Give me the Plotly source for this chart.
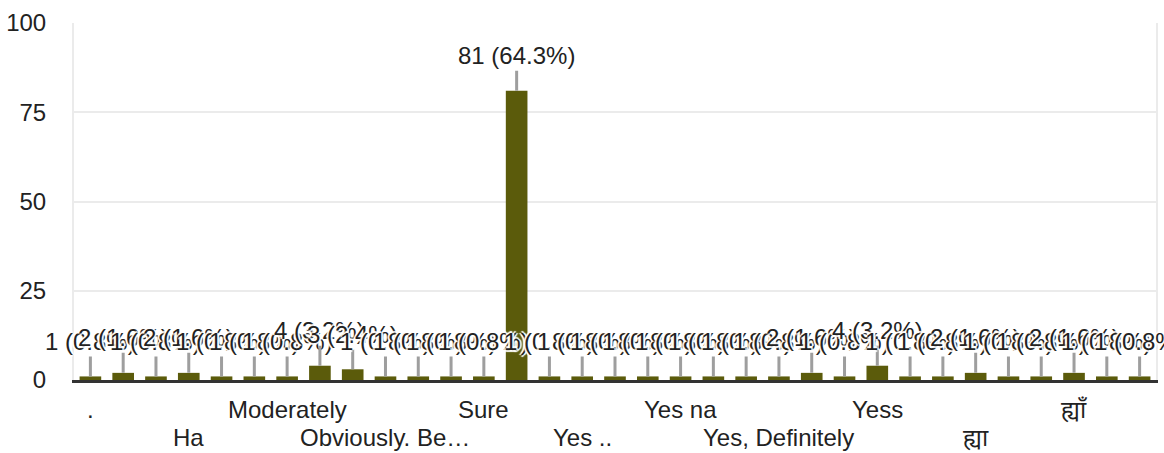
import plotly.graph_objects as go

categories = [
    ".", "Absolutely", "Definitely", "Ha", "Haan", "Maybe",
    "Moderately", "No", "Ok", "Obviously. Be…", "Of course", "Positive",
    "Sure", "Yes", "Yes .", "Yes ..", "Yes I will", "Yes mam",
    "Yes na", "Yes sure", "Yes, Absolutely", "Yes, Definitely", "Yes.", "Yes!",
    "Yess", "Yesss", "yes", "ह्या", "ह्या.", "हाँ",
    "ह्याँ", "हो", "होय",
]
counts = [
    1, 2, 1, 2, 1, 1,
    1, 4, 3, 1, 1, 1,
    1, 81, 1, 1, 1, 1,
    1, 1, 1, 1, 2, 1,
    4, 1, 1, 2, 1, 1,
    2, 1, 1,
]
total = 126

row1_labels = [".", "Moderately", "Sure", "Yes na", "Yess", "ह्याँ"]
row2_labels = ["Ha", "Obviously. Be…", "Yes ..", "Yes, Definitely", "ह्या"]

FONT = "Liberation Sans, Arial, Noto Sans, sans-serif"
TXT = "#222222"
FS = 24
HALO = "2px 0 1px white, -2px 0 1px white, 0 2px 1px white, 0 -2px 1px white"

fig = go.Figure()
fig.add_trace(go.Bar(
    x=categories, y=counts, marker_color="#5b5b0b", marker_line_width=0,
    hoverinfo="skip",
))

annotations = []
for c, v in zip(categories, counts):
    annotations.append(dict(
        x=c, y=v, xref="x", yref="y",
        text=f"{v} ({v / total * 100:.1f}%)",
        showarrow=True, ax=0, ay=-35, arrowhead=0, arrowwidth=3,
        arrowcolor="#9e9e9e", standoff=0,
        font=dict(family=FONT, size=FS, color=TXT, shadow=HALO),
    ))
for lab in row1_labels:
    annotations.append(dict(
        x=lab, y=0, xref="x", yref="paper", yanchor="middle", yshift=-29,
        text=lab, showarrow=False, font=dict(family=FONT, size=FS, color=TXT),
    ))
for lab in row2_labels:
    annotations.append(dict(
        x=lab, y=0, xref="x", yref="paper", yanchor="middle", yshift=-57,
        text=lab, showarrow=False, font=dict(family=FONT, size=FS, color=TXT),
    ))

fig.update_layout(
    width=1164, height=453,
    margin=dict(l=71, r=6, t=23, b=73),
    paper_bgcolor="white", plot_bgcolor="white",
    bargap=0.34, showlegend=False,
    annotations=annotations,
    font=dict(family=FONT, size=FS, color=TXT),
)
fig.update_xaxes(
    type="category", categoryorder="array", categoryarray=categories,
    range=[-0.5, len(categories) - 0.5], autorange=False,
    showticklabels=False, ticks="", showgrid=False,
    showline=True, linecolor="#333333", linewidth=3,
)
fig.update_yaxes(
    range=[0, 100], autorange=False, tickvals=[0, 25, 50, 75, 100],
    showgrid=True, gridcolor="#ebebeb", gridwidth=2,
    zeroline=False, showline=True, mirror=True, linecolor="#ebebeb", linewidth=2,
    ticks="", ticklabelstandoff=21,
    tickfont=dict(family=FONT, size=FS, color=TXT),
)

fig.write_html(
    "out.html",
    config={"displayModeBar": False},
    post_script="document.body.style.margin='0';document.body.style.overflow='hidden';",
)
